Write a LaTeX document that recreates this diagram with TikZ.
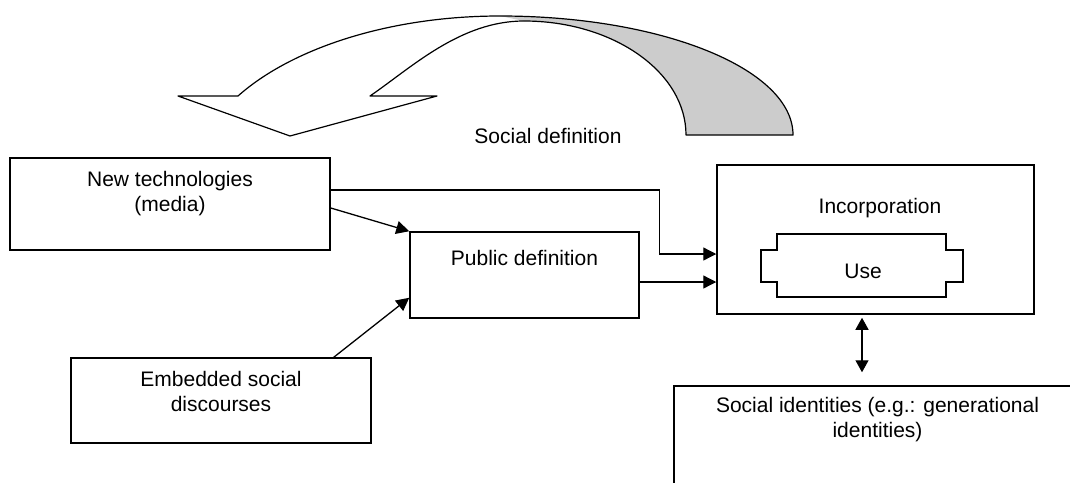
\documentclass[tikz,border=0pt]{standalone}
\usepackage{fontspec}
\setmainfont{Liberation Sans}
\usetikzlibrary{positioning, arrows.meta, calc}

\begin{document}
\begin{tikzpicture}[
  x=1pt, y=-1pt,
  font=\fontsize{21}{25}\selectfont,
  box/.style={draw=black, line width=1.5pt, inner sep=0pt},
  lbl/.style={align=center, inner sep=0pt, anchor=north},
  conn/.style={line width=1.3pt, -{Triangle[length=13pt, width=13pt]}},
  dbl/.style={line width=1.3pt, {Triangle[length=12pt, width=13pt]}-{Triangle[length=12pt, width=13pt]}},
  ribbon/.style={draw=black, line width=1.2pt, line join=round}
]
\clip (0,0) rectangle (1070,482);

% the curved arrow on top
\fill[gray!40] (524,21) .. controls (613,21) and (686,72) .. (686,135)
  -- (793,135) .. controls (793,69) and (662,16) .. (500,16) -- cycle;
\draw[ribbon] (178,96) -- (238,96)
  .. controls (292,48) and (390,16) .. (500,16)
  .. controls (662,16) and (793,69) .. (793,135)
  -- (686,135)
  .. controls (686,72) and (613,21) .. (524,21)
  .. controls (460,21) and (411,68) .. (370,96)
  -- (437,96) -- (290,136) -- cycle;
\node[inner sep=0pt, anchor=base] (sdef) at (548,143) {Social definition};

% the boxes
\node[box, minimum width=320pt, minimum height=92pt]  (nt)  at (170,204)   {};
\node[box, minimum width=229pt, minimum height=86pt]  (pd)  at (524.5,275) {};
\node[box, minimum width=317pt, minimum height=149pt] (inc) at (875.5,239.5) {};
\node[box, minimum width=300pt, minimum height=85pt]  (es)  at (221,400.5) {};
\node[box, minimum width=407pt, minimum height=160pt] (si)  at (877.5,466) {};

\node[lbl] (ntl)  at ($(nt.north)+(0,13.5)$)    {New technologies\\(media)};
\node[lbl] (pdl)  at ($(pd.north)+(0,18.5)$)    {Public definition};
\node[lbl] (incl) at ($(inc.north)+(4.5,33.5)$) {Incorporation};
\node[lbl] (esl)  at ($(es.north)+(0,13.5)$)    {Embedded social\\discourses};
\node[lbl] (sil)  at ($(si.north)+(0,11.5)$)    {Social identities (e.g.: generational\\identities)};

% use, inside incorporation
\draw[box] (777,234) -- (946,234) -- (946,250) -- (963,250) -- (963,282) -- (946,282)
  -- (946,297) -- (777,297) -- (777,282) -- (761,282) -- (761,250) -- (777,250) -- cycle;
\node[inner sep=0pt, anchor=base] (use) at (863,278) {Use};

% connectors
\draw[conn] ($(nt.east)+(0,4)$) -- (pd.north west);
\draw[conn] ($(es.north east)+(-38,0)$) -- ($(pd.south west)+(0,-21)$);
\coordinate (bend) at ($(inc.west)+(-57,14.5)$);
\draw[conn] ($(nt.east)+(0,-14)$) -| (bend) -- (bend -| inc.west);
\coordinate (pdout) at ($(pd.east)+(0,7)$);
\draw[conn] (pdout) -- (pdout -| inc.west);
\draw[dbl] ($(inc.south)+(-13.5,3)$) -- ($(si.north)+(-15.5,-13)$);

\end{tikzpicture}
\end{document}
